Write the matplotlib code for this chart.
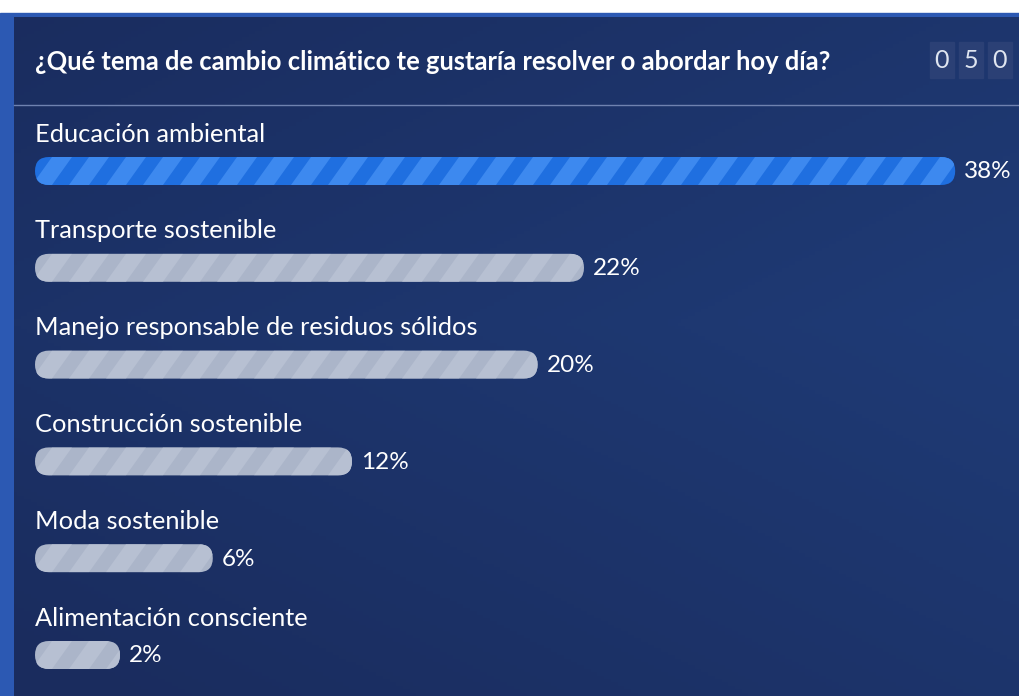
import numpy as np
import matplotlib.pyplot as plt
from matplotlib.patches import FancyBboxPatch, Polygon, Rectangle
from matplotlib.colors import LinearSegmentedColormap

plt.rcParams['font.family'] = ['Lato', 'DejaVu Sans']

title = "¿Qué tema de cambio climático te gustaría resolver o abordar hoy día?"
categories = ["Educación ambiental", "Transporte sostenible",
              "Manejo responsable de residuos sólidos", "Construcción sostenible",
              "Moda sostenible", "Alimentación consciente"]
percent = [38, 22, 20, 12, 6, 2]
votes = "050"

W, H = 1020, 696
fig = plt.figure(figsize=(W / 100, H / 100), dpi=100)
ax = fig.add_axes([0, 0, 1, 1])
ax.set_xlim(0, W)
ax.set_ylim(H, 0)
ax.axis('off')

# fondo: banda blanca arriba, borde azul, panel con degradado
fig.patch.set_facecolor('white')
ax.add_patch(Rectangle((0, 13), W, H - 13, color='#2c59b3', zorder=0))
yy, xx = np.mgrid[0:1:200j, 0:1:300j]
g = np.clip(0.6 * xx + 0.4 * (1 - np.abs(yy - 0.45) * 2), 0, 1)
cmap = LinearSegmentedColormap.from_list('bg', ['#1a2c5e', '#1f3b76'])
ax.imshow(g, cmap=cmap, extent=(14, W, H, 17), aspect='auto', zorder=1)

# encabezado
ax.text(35, 62, title, color='white', fontsize=18.4, fontweight='bold',
        va='center', ha='left', zorder=5)
for i, d in enumerate(votes):
    bx = 930 + i * 29
    ax.add_patch(Rectangle((bx, 42), 24, 36, color='#2b4075', zorder=3))
    ax.text(bx + 12, 60, d, color='#dfe5f0', fontsize=18,
            ha='center', va='center', zorder=5)
ax.plot([14, W], [105, 105], color='#6f82b0', lw=1, zorder=3)

# barras
x0, bh, cap, scale = 35, 28, 38.6, 23.2
for i, (cat, p) in enumerate(zip(categories, percent)):
    yc = 171 + i * 96.8
    ax.text(35, yc - 37, cat, color='white', fontsize=18.3, va='center', ha='left', zorder=5)
    length = cap + scale * p
    if i == 0:
        base, stripe = '#1f6fe0', '#3d89ef'
    else:
        base, stripe = '#abb5c9', '#b7c0d2'
    bar = FancyBboxPatch((x0, yc - bh / 2), length, bh,
                         boxstyle="round,pad=0,rounding_size=14",
                         facecolor=base, edgecolor='none', zorder=4)
    ax.add_patch(bar)
    for sx in np.arange(x0 - 40, x0 + length + 40, 37):
        poly = Polygon([(sx, yc + bh / 2), (sx + 20, yc + bh / 2),
                        (sx + 40, yc - bh / 2), (sx + 20, yc - bh / 2)],
                       closed=True, facecolor=stripe, edgecolor='none', zorder=4.5)
        ax.add_patch(poly)
        poly.set_clip_path(bar)
    ax.text(x0 + length + 9, yc + 1, f"{p}%", color='white', fontsize=17.5,
            va='center', ha='left', zorder=5)

fig.savefig('out.png', dpi=100)
